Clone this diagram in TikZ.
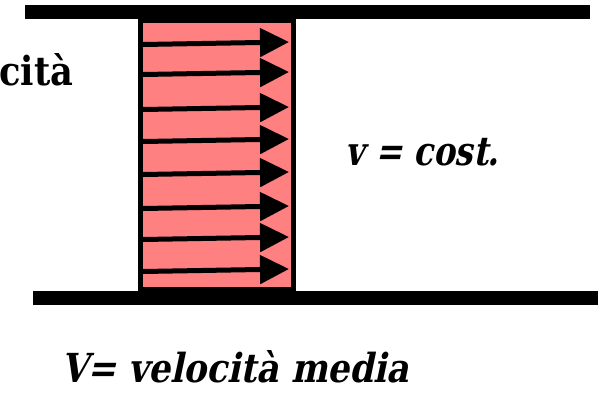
\documentclass[tikz,border=0pt]{standalone}
\usepackage{fontspec}
\usepackage{graphicx}
\newfontfamily\fdv{DejaVu Serif}
\usetikzlibrary{arrows.meta}
\definecolor{profilefill}{RGB}{255,128,128}
\tikzset{
  wall/.style={fill=black, draw=none},
  profilebox/.style={fill=profilefill, draw=black, line width=5pt},
  velarrow/.style={line width=5pt, -{Triangle[length=29pt,width=28pt]}},
  bigtext/.style={inner sep=0pt, anchor=base west, transform shape, font=\fontsize{40}{48}\selectfont\fdv\bfseries},
  bigtextup/.style={inner sep=0pt, anchor=base west, font=\fontsize{40}{48}\selectfont\fdv\bfseries}
}
\begin{document}
\begin{tikzpicture}[x=1pt,y=-1pt]
\useasboundingbox (0,0) rectangle (605,402);
\fill[white] (0,0) rectangle (605,402);
\draw[profilebox] (140,20) rectangle (293.5,289);
\foreach \yy [count=\i] in {42,72,107,139,172,206,237,269} {
  \coordinate (s\i) at (143,\yy+2.5);
  \coordinate (e\i) at (289,\yy);
  \draw[velarrow] (s\i) -- (e\i);
}
\fill[wall] (25,5) rectangle (590,19);
\fill[wall] (33,291) rectangle (598,305);
\node[bigtextup] (vel) at (-1,85) {\resizebox{74pt}{\height}{cità}};
\begin{scope}[shift={(345,165)}, xslant=0.21]
  \node[bigtext] (vc) at (0,0) {\resizebox{154pt}{\height}{v = cost.}};
\end{scope}
\begin{scope}[shift={(61,382)}, xslant=0.21]
  \node[bigtext] (vm) at (0,0) {\resizebox{348pt}{\height}{V= velocità media}};
\end{scope}
\end{tikzpicture}
\end{document}
